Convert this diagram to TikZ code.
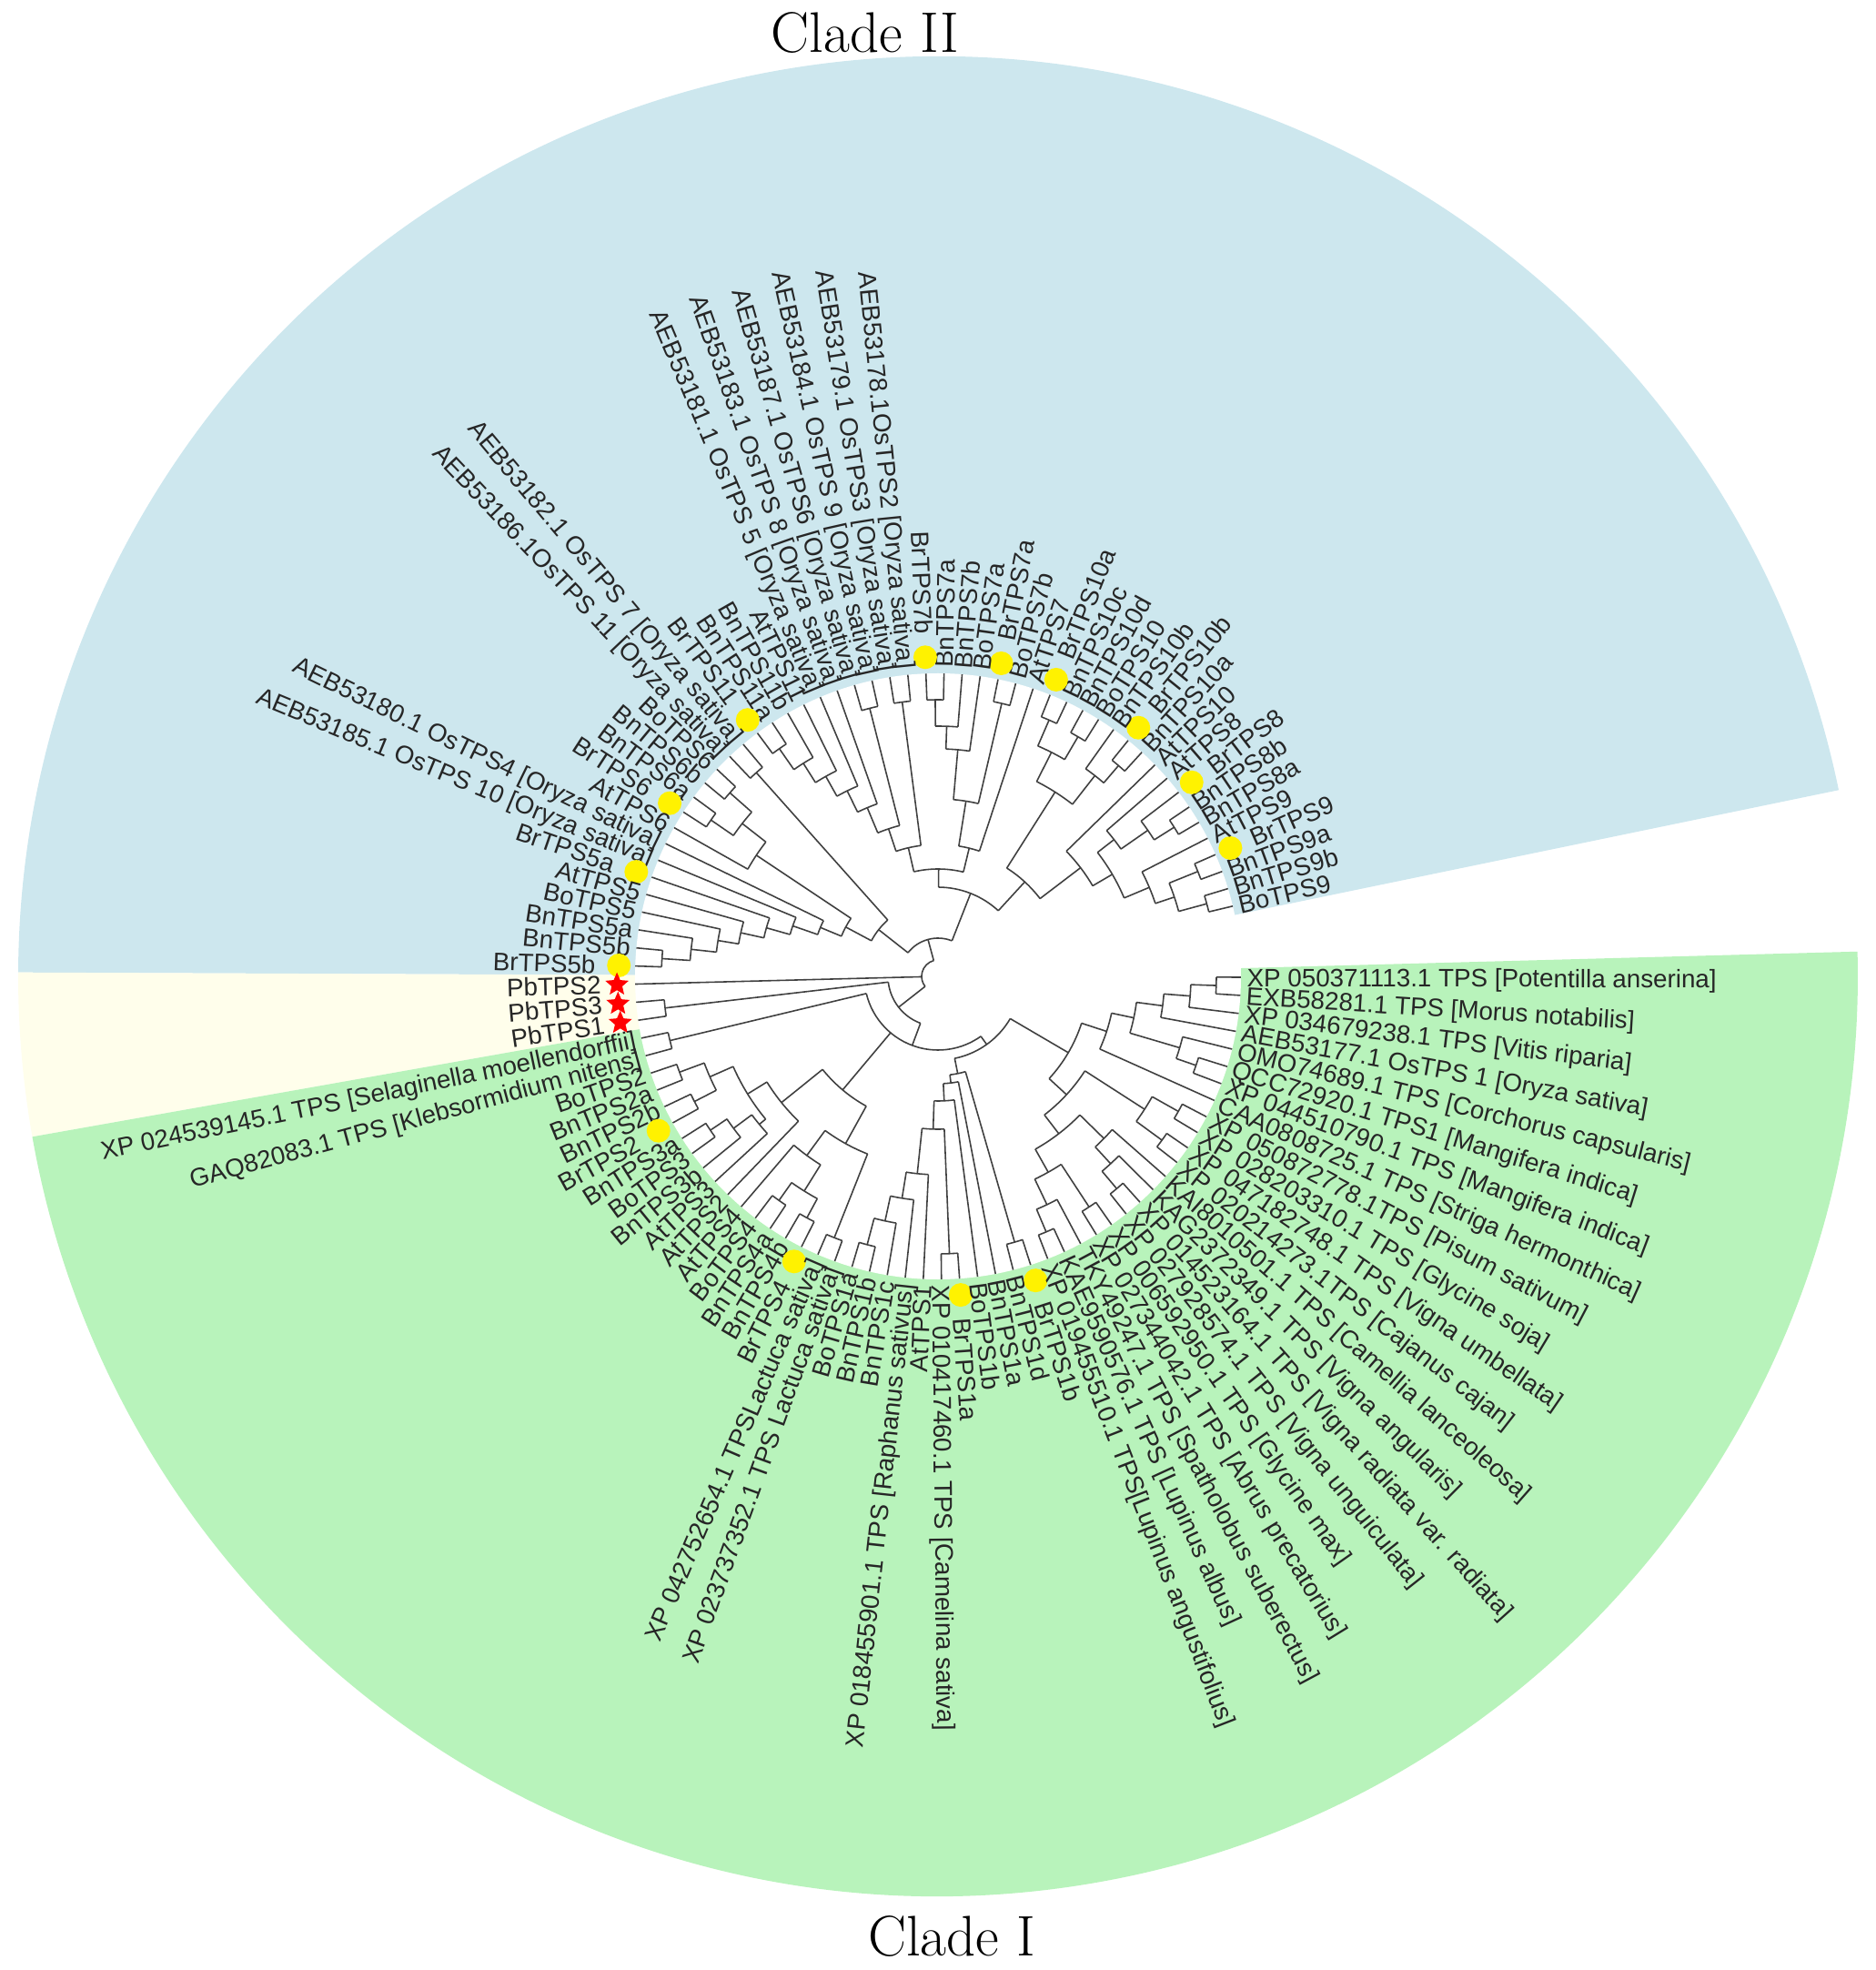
\documentclass[tikz,border=0pt]{standalone}
\usepackage{fontspec}
\usepackage{xcolor}
\usepackage{tikz}
\usetikzlibrary{shapes.geometric}
\newfontfamily\treefont{Liberation Sans}
\newcommand{\leaffont}{\treefont\fontsize{7.9}{9}\selectfont}
\definecolor{cladetwo}{HTML}{CDE7EE}
\definecolor{cladepb}{HTML}{FFFEEB}
\definecolor{cladeone}{HTML}{B8F3BB}
\newcommand{\tipr}{3.33}
\newcommand{\angzero}{13.4}
\newcommand{\angstep}{3.43}
\newcommand{\labrn}{3.39}
\newcommand{\labrb}{3.76}
\newcommand{\labrp}{3.70}
\tikzset{
  branch/.style={draw=black!75, line width=0.45pt},
  leaflabel/.style={font=\leaffont, text=black!85, inner sep=0pt, text height=5.7pt, text depth=0pt},
  brdot/.style={circle, fill=yellow, inner sep=0pt, minimum size=0.26cm},
  pbstar/.style={star, star points=5, star point ratio=2.2, fill=red, inner sep=0pt, minimum size=0.27cm},
  cladetitle/.style={font=\fontsize{17.9}{20}\selectfont, inner sep=0pt}
}
\newcommand{\mkn}[1]{}
\newcommand{\mkb}[1]{\node[brdot] (d#1) at (\lang:3.51) {};}
\newcommand{\mkp}[1]{\node[pbstar] (s#1) at (\lang:3.53) {};}
\makeatletter
% leaf: index, marker (n/b/p), label
\newcommand{\leaf}[3]{%
  \pgfmathsetmacro\lang{\angzero+(#1-1)*\angstep}%
  \expandafter\xdef\csname ang@l#1\endcsname{\lang}%
  \coordinate (l#1) at (\lang:\tipr);
  \csname mk#2\endcsname{#1}%
  \edef\lrad{\csname labr#2\endcsname}%
  \def\flip{0}%
  \ifdim\lang pt>90pt \ifdim\lang pt<270pt \def\flip{1}\fi\fi
  \if1\flip
    \pgfmathsetmacro\lrot{\lang-180}%
    \node[leaflabel, anchor=east, rotate=\lrot] (n#1) at (\lang:\lrad) {#3};
  \else
    \node[leaflabel, anchor=west, rotate=\lang] (n#1) at (\lang:\lrad) {#3};
  \fi}
% clade: name, radius, children
\newcommand{\clade}[3]{%
  \gdef\cmin{1000}\gdef\cmax{-1000}%
  \foreach \ch in {#3}{%
    \edef\ca{\csname ang@\ch\endcsname}%
    \draw[branch] (\ch) -- (\ca:#2);
    \pgfmathparse{min(\cmin,\ca)}\xdef\cmin{\pgfmathresult}%
    \pgfmathparse{max(\cmax,\ca)}\xdef\cmax{\pgfmathresult}%
  }%
  \pgfmathsetmacro\cmid{(\cmin+\cmax)/2}%
  \draw[branch] (\cmin:#2) arc[start angle=\cmin, end angle=\cmax, radius=#2];
  \expandafter\xdef\csname ang@#1\endcsname{\cmid}%
  \coordinate (#1) at (\cmid:#2);}
\makeatother

\begin{document}
\begin{tikzpicture}
  \useasboundingbox (-10.31,-10.92) rectangle (10.31,10.73);

  \fill[cladetwo] (0,0) -- (11.685:10.11) arc[start angle=11.685, end angle=179.755, radius=10.11] -- cycle;
  \fill[cladepb] (0,0) -- (179.755:10.11) arc[start angle=179.755, end angle=190.045, radius=10.11] -- cycle;
  \fill[cladeone] (0,0) -- (190.045:10.11) arc[start angle=190.045, end angle=361.545, radius=10.11] -- cycle;
  \fill[white] (0,0) circle (\tipr);

  \node[cladetitle] (t2) at (-0.80,10.37) {Clade II};
  \node[cladetitle] (t1) at (0.15,-10.55) {Clade I};

  \leaf{1}{n}{BoTPS9}
  \leaf{2}{n}{BnTPS9b}
  \leaf{3}{n}{BnTPS9a}
  \leaf{4}{b}{BrTPS9}
  \leaf{5}{n}{AtTPS9}
  \leaf{6}{n}{BnTPS8a}
  \leaf{7}{n}{BnTPS8b}
  \leaf{8}{b}{BrTPS8}
  \leaf{9}{n}{AtTPS8}
  \leaf{10}{n}{AtTPS10}
  \leaf{11}{n}{BnTPS10a}
  \leaf{12}{b}{BrTPS10b}
  \leaf{13}{n}{BnTPS10b}
  \leaf{14}{n}{BoTPS10}
  \leaf{15}{n}{BnTPS10d}
  \leaf{16}{n}{BnTPS10c}
  \leaf{17}{b}{BrTPS10a}
  \leaf{18}{n}{AtTPS7}
  \leaf{19}{n}{BoTPS7b}
  \leaf{20}{b}{BrTPS7a}
  \leaf{21}{n}{BoTPS7a}
  \leaf{22}{n}{BnTPS7b}
  \leaf{23}{n}{BnTPS7a}
  \leaf{24}{b}{BrTPS7b}
  \leaf{25}{n}{AEB53178.1OsTPS2 [Oryza sativa]}
  \leaf{26}{n}{AEB53179.1 OsTPS3 [Oryza sativa]}
  \leaf{27}{n}{AEB53184.1 OsTPS 9 [Oryza sativa]}
  \leaf{28}{n}{AEB53187.1 OsTPS6 [Oryza sativa]}
  \leaf{29}{n}{AEB53183.1 OsTPS 8 [Oryza sativa]}
  \leaf{30}{n}{AEB53181.1 OsTPS 5 [Oryza sativa]}
  \leaf{31}{n}{AtTPS11}
  \leaf{32}{n}{BnTPS11b}
  \leaf{33}{n}{BnTPS11a}
  \leaf{34}{b}{BrTPS11}
  \leaf{35}{n}{AEB53182.1 OsTPS 7 [Oryza sativa]}
  \leaf{36}{n}{AEB53186.1OsTPS 11 [Oryza sativa]}
  \leaf{37}{n}{BoTPS6}
  \leaf{38}{n}{BnTPS6b}
  \leaf{39}{n}{BnTPS6a}
  \leaf{40}{b}{BrTPS6}
  \leaf{41}{n}{AtTPS6}
  \leaf{42}{n}{AEB53180.1 OsTPS4 [Oryza sativa]}
  \leaf{43}{n}{AEB53185.1 OsTPS 10 [Oryza sativa]}
  \leaf{44}{b}{BrTPS5a}
  \leaf{45}{n}{AtTPS5}
  \leaf{46}{n}{BoTPS5}
  \leaf{47}{n}{BnTPS5a}
  \leaf{48}{n}{BnTPS5b}
  \leaf{49}{b}{BrTPS5b}
  \leaf{50}{p}{PbTPS2}
  \leaf{51}{p}{PbTPS3}
  \leaf{52}{p}{PbTPS1}
  \leaf{53}{n}{XP 024539145.1 TPS [Selaginella moellendorffii]}
  \leaf{54}{n}{GAQ82083.1 TPS [Klebsormidium nitens]}
  \leaf{55}{n}{BoTPS2}
  \leaf{56}{n}{BnTPS2a}
  \leaf{57}{n}{BnTPS2b}
  \leaf{58}{b}{BrTPS2}
  \leaf{59}{n}{BnTPS3a}
  \leaf{60}{n}{BoTPS3}
  \leaf{61}{n}{BnTPS3b}
  \leaf{62}{n}{AtTPS3}
  \leaf{63}{n}{AtTPS2}
  \leaf{64}{n}{AtTPS4}
  \leaf{65}{n}{BoTPS4}
  \leaf{66}{n}{BnTPS4a}
  \leaf{67}{n}{BnTPS4b}
  \leaf{68}{b}{BrTPS4}
  \leaf{69}{n}{XP 042752654.1 TPSLactuca sativa]}
  \leaf{70}{n}{XP 023737352.1 TPS Lactuca sativa]}
  \leaf{71}{n}{BoTPS1a}
  \leaf{72}{n}{BnTPS1b}
  \leaf{73}{n}{BnTPS1c}
  \leaf{74}{n}{XP 018455901.1 TPS [Raphanus sativus]}
  \leaf{75}{n}{AtTPS1}
  \leaf{76}{n}{XP 010417460.1 TPS [Camelina sativa]}
  \leaf{77}{b}{BrTPS1a}
  \leaf{78}{n}{BoTPS1b}
  \leaf{79}{n}{BnTPS1a}
  \leaf{80}{n}{BnTPS1d}
  \leaf{81}{b}{BrTPS1b}
  \leaf{82}{n}{XP 019455510.1 TPS[Lupinus angustifolius]}
  \leaf{83}{n}{KAE9590576.1 TPS [Lupinus albus]}
  \leaf{84}{n}{TKY49247.1 TPS [Spatholobus suberectus]}
  \leaf{85}{n}{XP 027344042.1 TPS [Abrus precatorius]}
  \leaf{86}{n}{XP 006592950.1 TPS [Glycine max]}
  \leaf{87}{n}{XP 027928574.1 TPS [Vigna unguiculata]}
  \leaf{88}{n}{XP 014523164.1 TPS [Vigna radiata var. radiata]}
  \leaf{89}{n}{KAG2372349.1 TPS [Vigna angularis]}
  \leaf{90}{n}{KAI8010501.1 TPS [Camellia lanceoleosa]}
  \leaf{91}{n}{XP 020214273.1TPS [Cajanus cajan]}
  \leaf{92}{n}{XP 047182748.1 TPS [Vigna umbellata]}
  \leaf{93}{n}{XP 028203310.1 TPS [Glycine soja]}
  \leaf{94}{n}{XP 050872778.1TPS [Pisum sativum]}
  \leaf{95}{n}{CAA0808725.1 TPS [Striga hermonthica]}
  \leaf{96}{n}{XP 044510790.1 TPS [Mangifera indica]}
  \leaf{97}{n}{QCC72920.1 TPS1 [Mangifera indica]}
  \leaf{98}{n}{OMO74689.1 TPS [Corchorus capsularis]}
  \leaf{99}{n}{AEB53177.1 OsTPS 1 [Oryza sativa]}
  \leaf{100}{n}{XP 034679238.1 TPS [Vitis riparia]}
  \leaf{101}{n}{EXB58281.1 TPS [Morus notabilis]}
  \leaf{102}{n}{XP 050371113.1 TPS [Potentilla anserina]}

  \clade{c9a}{3.06}{l1,l2}
  \clade{c9b}{3.08}{l3,l4}
  \clade{c9c}{2.74}{c9a,c9b}
  \clade{c9}{2.52}{c9c,l5}
  \clade{c8a}{3.07}{l6,l7}
  \clade{c8b}{2.81}{c8a,l8}
  \clade{c8}{2.45}{c8b,l9}
  \clade{c89}{2.22}{c9,c8}
  \clade{c10x}{1.97}{c89,l10}
  \clade{c10a}{3.05}{l11,l12}
  \clade{c10b}{2.80}{c10a,l13}
  \clade{c10c}{3.05}{l14,l15}
  \clade{c10d}{3.07}{l16,l17}
  \clade{c10e}{2.76}{c10c,c10d}
  \clade{c10f}{2.40}{c10b,c10e}
  \clade{c810}{1.41}{c10x,c10f}
  \clade{c7a}{3.08}{l19,l20}
  \clade{c7b}{3.04}{l23,l24}
  \clade{c7c}{2.75}{c7b,l22}
  \clade{c7d}{2.50}{c7c,l21}
  \clade{c7e}{1.95}{c7a,c7d}
  \clade{c7}{1.45}{l18,c7e}
  \clade{co1}{3.04}{l25,l26}
  \clade{co2}{3.04}{l27,l28}
  \clade{c11a}{3.05}{l33,l34}
  \clade{c11b}{2.77}{c11a,l32}
  \clade{c11c}{2.52}{c11b,l31}
  \clade{co3}{2.27}{c11c,l30}
  \clade{co4}{2.01}{co3,l29}
  \clade{co5}{1.71}{co4,co2}
  \clade{co6}{1.45}{co5,co1}
  \clade{ctopa}{1.18}{co6,c7}
  \clade{ctop}{0.98}{ctopa,c810}
  \clade{c6a}{3.05}{l37,l38}
  \clade{c6b}{3.03}{l39,l40}
  \clade{c6c}{2.73}{c6a,c6b}
  \clade{c6}{2.40}{c6c,l41}
  \clade{c5a}{3.04}{l48,l49}
  \clade{c5b}{2.73}{c5a,l47}
  \clade{c5c}{2.45}{c5b,l46}
  \clade{c5d}{2.22}{c5c,l45}
  \clade{c5e}{1.96}{c5d,l44}
  \clade{c5f}{1.69}{c5e,l43}
  \clade{c5g}{1.40}{c5f,l42}
  \clade{c56}{1.15}{c5g,c6}
  \clade{cos}{3.00}{l35,l36}
  \clade{cleft}{0.83}{c56,cos}
  \clade{ctwo}{0.42}{ctop,cleft}

  \clade{cpb}{3.02}{l51,l52}

  \clade{cx}{3.03}{l53,l54}
  \clade{c2a}{3.03}{l55,l56}
  \clade{c2b}{3.01}{l57,l58}
  \clade{c2}{2.74}{c2a,c2b}
  \clade{c3a}{3.02}{l59,l60}
  \clade{c3b}{2.80}{c3a,l61}
  \clade{c3}{2.55}{c3b,l62}
  \clade{c23}{2.46}{c2,c3}
  \clade{c23x}{2.21}{c23,l63}
  \clade{c4a}{3.02}{l65,l66}
  \clade{c4b}{3.02}{l67,l68}
  \clade{c4c}{2.78}{c4a,c4b}
  \clade{c4}{2.44}{c4c,l64}
  \clade{clac}{3.09}{l69,l70}
  \clade{c4l}{2.10}{c4,clac}
  \clade{c234}{1.63}{c23x,c4l}
  \clade{c1a}{3.05}{l71,l72}
  \clade{c1b}{2.75}{c1a,l73}
  \clade{c1c}{2.47}{c1b,l74}
  \clade{c1d}{2.18}{c1c,l75}
  \clade{c1e}{3.05}{l76,l77}
  \clade{c1f}{1.68}{c1d,c1e}
  \clade{c1g}{1.37}{c1f,l78}
  \clade{c1h}{1.18}{c1g,l79}
  \clade{c1i}{3.04}{l80,l81}
  \clade{c1}{1.09}{c1h,c1i}
  \clade{clup}{3.05}{l82,l83}
  \clade{cl1}{2.78}{clup,l84}
  \clade{cl2}{3.03}{l85,l86}
  \clade{cl3}{2.47}{cl1,cl2}
  \clade{cl4}{3.05}{l87,l88}
  \clade{cl5}{2.80}{cl4,l89}
  \clade{cl6}{2.55}{cl5,l90}
  \clade{cl7}{2.18}{cl3,cl6}
  \clade{cl8}{3.05}{l91,l92}
  \clade{cl9}{3.03}{l93,l94}
  \clade{cl10}{2.70}{cl8,cl9}
  \clade{cleg}{1.92}{cl7,cl10}
  \clade{cm1}{3.00}{l96,l97}
  \clade{cm2}{2.77}{cm1,l98}
  \clade{cp1}{3.06}{l101,l102}
  \clade{cp2}{2.78}{cp1,l100}
  \clade{cp3}{2.49}{cp2,l99}
  \clade{cp4}{2.20}{cp3,cm2}
  \clade{cp5}{1.95}{cp4,l95}
  \clade{cros}{1.66}{cleg,cp5}
  \clade{ccore}{0.92}{c1,cros}
  \clade{cone}{0.81}{cx,c234,ccore}
  \clade{cpbone}{0.55}{cpb,cone}

  \clade{root}{0.18}{ctwo,l50,cpbone}
\end{tikzpicture}
\end{document}
